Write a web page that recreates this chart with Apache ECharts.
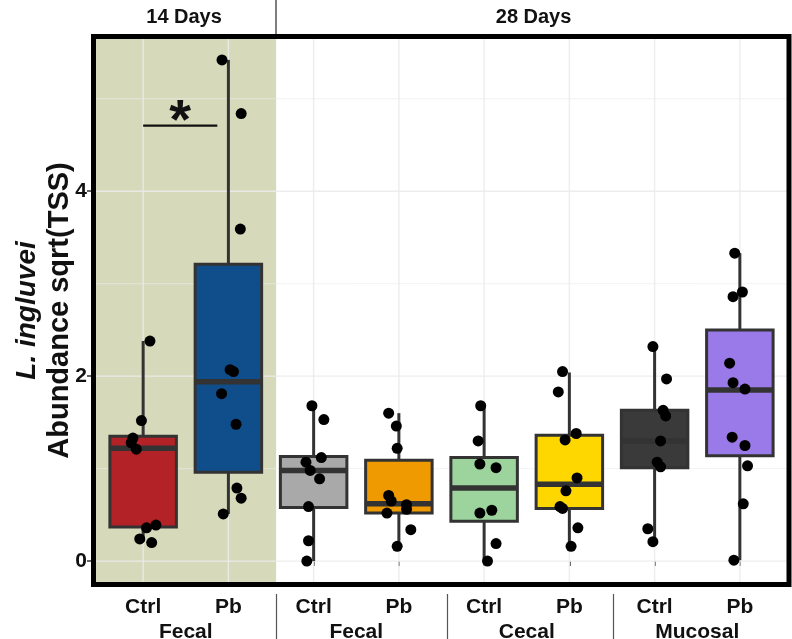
<!DOCTYPE html>
<html><head><meta charset="utf-8">
<script src="https://cdn.jsdelivr.net/npm/echarts@6/dist/echarts.min.js"></script>
<style>html,body{margin:0;padding:0;background:#fff}#c{width:792px;height:639px}</style>
</head><body><div id="c"></div>
<script>
// ---------- data ----------
const groupLabels = ['Ctrl','Pb','Ctrl','Pb','Ctrl','Pb','Ctrl','Pb'];
const tissueLabels = ['Fecal','Fecal','Cecal','Mucosal'];
const dayLabels = ['14 Days','28 Days'];
const yTicks = [0, 2, 4];
// box summaries: [lower whisker, Q1, median, Q3, upper whisker]
const boxStats = [
  [0.21, 0.37, 1.22, 1.35, 2.38],
  [0.51, 0.96, 1.94, 3.21, 5.42],
  [0.00, 0.58, 0.98, 1.13, 1.68],
  [0.15, 0.52, 0.62, 1.09, 1.60],
  [0.00, 0.43, 0.79, 1.12, 1.67],
  [0.16, 0.57, 0.83, 1.36, 2.04],
  [0.21, 1.01, 1.30, 1.63, 2.33],
  [0.01, 1.14, 1.85, 2.50, 3.33]
];
// observations per group (value) and their horizontal jitter (category units)
const ctrl14Fecal = [2.38, 1.52, 1.33, 1.28, 1.21, 0.39, 0.36, 0.24, 0.20];
const ctrl14FecalJit = [0.08, -0.02, -0.12, -0.14, -0.08, 0.15, 0.04, -0.04, 0.10];
const pb14Fecal = [5.42, 4.84, 3.59, 2.07, 2.05, 1.81, 1.48, 0.79, 0.68, 0.51];
const pb14FecalJit = [-0.075, 0.15, 0.14, 0.02, 0.06, -0.08, 0.09, 0.10, 0.15, -0.06];
const ctrl28Fecal = [1.68, 1.53, 1.12, 1.07, 0.98, 0.89, 0.59, 0.22, 0.00];
const ctrl28FecalJit = [-0.02, 0.12, 0.09, -0.09, -0.04, 0.07, -0.06, -0.06, -0.08];
const pb28Fecal = [1.60, 1.46, 1.22, 0.71, 0.65, 0.61, 0.56, 0.52, 0.34, 0.16];
const pb28FecalJit = [-0.12, -0.03, -0.02, -0.12, -0.09, 0.09, 0.09, -0.14, 0.14, -0.02];
const ctrl28Cecal = [1.68, 1.30, 1.05, 1.01, 0.55, 0.52, 0.19, 0.00];
const ctrl28CecalJit = [-0.04, -0.07, -0.05, 0.14, 0.09, -0.05, 0.14, 0.04];
const pb28Cecal = [2.05, 1.83, 1.38, 1.31, 0.90, 0.76, 0.59, 0.57, 0.36, 0.16];
const pb28CecalJit = [-0.08, -0.13, 0.08, -0.05, 0.09, -0.04, -0.11, -0.08, 0.10, 0.02];
const ctrl28Mucosal = [2.32, 1.97, 1.63, 1.57, 1.30, 1.07, 1.02, 0.35, 0.21];
const ctrl28MucosalJit = [-0.02, 0.14, 0.10, 0.13, 0.07, 0.03, 0.07, -0.08, -0.02];
const pb28Mucosal = [3.33, 2.91, 2.86, 2.14, 1.93, 1.86, 1.34, 1.25, 1.03, 0.62, 0.01];
const pb28MucosalJit = [-0.06, 0.03, -0.08, -0.12, -0.08, 0.06, -0.09, 0.06, 0.09, 0.04, -0.07];
// significance annotation between groups 1 and 2
const sigSpan = [1.0, 1.87];
const sigLevel = 4.71;
const sigText = '*';

// ---------- styles ----------
const boxColors = ['#B22226','#104E8B','#A9A9A9','#EE9A00','#9DD49D','#FFD700','#3A3A3A','#9A79E8'];
const FONT = '"Liberation Sans",Arial,sans-serif';
const XMIN = 0.4, XMAX = 8.6, YMIN = -0.28, YMAX = 5.70;
const SHADE_END = 2.56;            // end of 14-day shading / facet split
const GROUP_SEP = [2.56, 4.565, 6.52];

const obs = [ctrl14Fecal, pb14Fecal, ctrl28Fecal, pb28Fecal, ctrl28Cecal, pb28Cecal, ctrl28Mucosal, pb28Mucosal];
const jit = [ctrl14FecalJit, pb14FecalJit, ctrl28FecalJit, pb28FecalJit, ctrl28CecalJit, pb28CecalJit, ctrl28MucosalJit, pb28MucosalJit];
const points = [];
obs.forEach((arr, g) => arr.forEach((v, i) => points.push([g + 1 + jit[g][i], v])));

const catPos = groupLabels.map((_, i) => i + 1);
const minorY = [1, 3, 5];

const chart = echarts.init(document.getElementById('c'), null, {renderer: 'canvas'});

function bgRender(params, api) {
  const children = [];
  const tl = api.coord([XMIN, YMAX]);
  const br = api.coord([SHADE_END, YMIN]);
  children.push({type: 'rect', shape: {x: tl[0], y: tl[1], width: br[0] - tl[0], height: br[1] - tl[1]},
    style: {fill: '#D6DABB'}});
  const x0 = api.coord([XMIN, 0])[0], x1 = api.coord([XMAX, 0])[0];
  const yTop = api.coord([1, YMAX])[1], yBot = api.coord([1, YMIN])[1];
  minorY.forEach(v => { const y = api.coord([1, v])[1];
    children.push({type: 'line', shape: {x1: x0, y1: y, x2: x1, y2: y}, style: {stroke: 'rgba(235,235,235,0.8)', lineWidth: 0.8}}); });
  yTicks.forEach(v => { const y = api.coord([1, v])[1];
    children.push({type: 'line', shape: {x1: x0, y1: y, x2: x1, y2: y}, style: {stroke: 'rgba(235,235,235,0.9)', lineWidth: 1.4}}); });
  catPos.forEach(v => { const x = api.coord([v, 0])[0];
    children.push({type: 'line', shape: {x1: x, y1: yTop, x2: x, y2: yBot}, style: {stroke: 'rgba(235,235,235,0.9)', lineWidth: 1.4}}); });
  return {type: 'group', children};
}

function boxRender(params, api) {
  const g = params.dataIndex;
  const s = boxStats[g];
  const c = g + 1, hw = 0.39;
  const lo = api.coord([c, s[0]]), q1 = api.coord([c, s[1]]), md = api.coord([c, s[2]]),
        q3 = api.coord([c, s[3]]), hi = api.coord([c, s[4]]);
  const left = api.coord([c - hw, s[1]])[0], right = api.coord([c + hw, s[1]])[0];
  const stroke = '#333333';
  return {type: 'group', children: [
    {type: 'line', shape: {x1: lo[0], y1: lo[1], x2: q1[0], y2: q1[1]}, style: {stroke, lineWidth: 3}},
    {type: 'line', shape: {x1: q3[0], y1: q3[1], x2: hi[0], y2: hi[1]}, style: {stroke, lineWidth: 3}},
    {type: 'rect', shape: {x: left, y: q3[1], width: right - left, height: q1[1] - q3[1]},
      style: {fill: boxColors[g], stroke, lineWidth: 3}},
    {type: 'line', shape: {x1: left, y1: md[1], x2: right, y2: md[1]}, style: {stroke, lineWidth: 5.5}}
  ]};
}

function sigRender(params, api) {
  const a = api.coord([sigSpan[0], sigLevel]), b = api.coord([sigSpan[1], sigLevel]);
  return {type: 'group', children: [
    {type: 'line', shape: {x1: a[0], y1: a[1], x2: b[0], y2: b[1]}, style: {stroke: '#111', lineWidth: 2.2}},
    {type: 'text', x: (a[0] + b[0]) / 2, y: a[1] - 31, style: {text: sigText, fill: '#111', fontSize: 56,
      fontWeight: 'bold', fontFamily: FONT, align: 'center', verticalAlign: 'top'}}
  ]};
}

const xBase = {type: 'value', min: XMIN, max: XMAX, gridIndex: 0, splitLine: {show: false},
  axisLine: {show: false}};

const option = {
  animation: false,
  backgroundColor: '#ffffff',
  grid: {left: 92, top: 34, right: 1, bottom: 52, containLabel: false, outerBoundsMode: 'none'},
  xAxis: [
    Object.assign({}, xBase, {position: 'bottom',
      axisTick: {show: true, customValues: catPos, length: 5, lineStyle: {color: '#333', width: 1.5}},
      axisLabel: {customValues: catPos, formatter: v => groupLabels[Math.round(v) - 1],
        fontFamily: FONT, fontWeight: 'bold', fontSize: 21, color: '#111', margin: 10}}),
    Object.assign({}, xBase, {position: 'bottom', offset: 25,
      axisTick: {show: false},
      axisLabel: {customValues: [1.5, 3.5, 5.5, 7.5], formatter: v => tissueLabels[Math.round((v - 1.5) / 2)],
        fontFamily: FONT, fontWeight: 'bold', fontSize: 21, color: '#111', margin: 10}}),
    Object.assign({}, xBase, {position: 'bottom', offset: 7,
      axisTick: {show: true, customValues: GROUP_SEP, length: 50, lineStyle: {color: '#555', width: 1.2}},
      axisLabel: {show: false}}),
    Object.assign({}, xBase, {position: 'top',
      axisTick: {show: true, customValues: [SHADE_END], length: 36, lineStyle: {color: '#555', width: 1.5}},
      axisLabel: {customValues: [(XMIN + SHADE_END) / 2, (SHADE_END + XMAX) / 2],
        formatter: v => v < SHADE_END ? dayLabels[0] : dayLabels[1],
        fontFamily: FONT, fontWeight: 'bold', fontSize: 20, color: '#111', margin: 7}})
  ],
  yAxis: {type: 'value', min: YMIN, max: YMAX, splitLine: {show: false}, axisLine: {show: false},
    axisTick: {show: true, customValues: yTicks, length: 5, lineStyle: {color: '#333', width: 1.5}},
    axisLabel: {customValues: yTicks, fontFamily: FONT, fontWeight: 'bold', fontSize: 21, color: '#111', margin: 5},
    name: '{a|L. ingluvei}\n{b|Abundance sqrt(TSS)}',
    nameLocation: 'middle', nameGap: 17, nameRotate: 90, nameMoveOverlap: false,
    nameTextStyle: {align: 'center', rich: {
      a: {fontFamily: FONT, fontStyle: 'italic', fontWeight: 'bold', fontSize: 28, lineHeight: 33, color: '#111'},
      b: {fontFamily: FONT, fontWeight: 'bold', fontSize: 29, lineHeight: 31, color: '#111'}}}
  },
  series: [
    {type: 'custom', z: 1, silent: true, renderItem: bgRender, data: [[1, 0]], xAxisIndex: 0, yAxisIndex: 0},
    {type: 'custom', z: 3, silent: true, renderItem: boxRender, data: boxStats.map((s, i) => [i + 1, s[2]]), xAxisIndex: 0, yAxisIndex: 0},
    {type: 'scatter', z: 4, silent: true, data: points, symbolSize: 11, itemStyle: {color: '#000', opacity: 1}, xAxisIndex: 0, yAxisIndex: 0},
    {type: 'custom', z: 5, silent: true, renderItem: sigRender, data: [[1.5, sigLevel]], xAxisIndex: 0, yAxisIndex: 0}
  ],
  graphic: [{type: 'rect', z: 100, silent: true, shape: {x: 93.5, y: 36.5, width: 695.5, height: 548},
    style: {fill: 'none', stroke: '#000', lineWidth: 5}}]
};
chart.setOption(option);
</script>
</body></html>
